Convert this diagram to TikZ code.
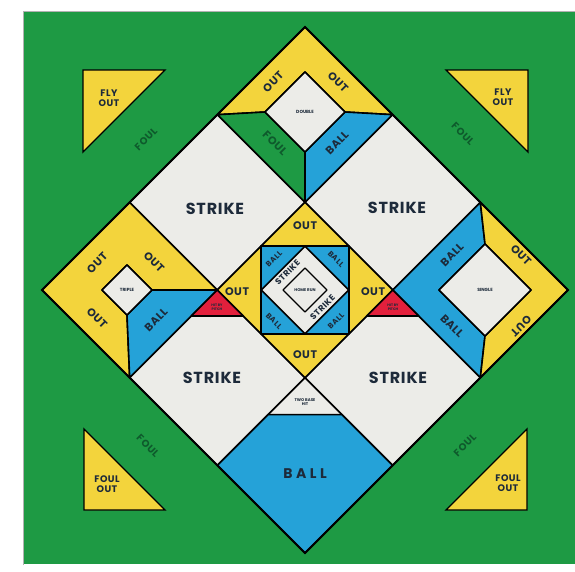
\documentclass[tikz,border=0pt]{standalone}
\usepackage{fontspec}
\setmainfont{Poppins}
\usetikzlibrary{calc}
\definecolor{fgreen}{HTML}{1E9A44}
\definecolor{dgreen}{HTML}{0E5A2C}
\definecolor{fyellow}{HTML}{F3D43C}
\definecolor{fblue}{HTML}{25A2D8}
\definecolor{fwhite}{HTML}{ECECE8}
\definecolor{fred}{HTML}{E2203C}
\definecolor{ink}{HTML}{1D2A3A}
\tikzset{
  cell/.style={draw=black, line width=1.6pt, line join=round},
  corner/.style={draw=black, line width=1.3pt, line join=miter, fill=fyellow},
  bigtxt/.style={font=\bfseries\fontsize{16}{16}\selectfont\addfontfeature{LetterSpace=5}, text=ink, inner sep=0pt},
  midtxt/.style={font=\bfseries\fontsize{11}{11}\selectfont\addfontfeature{LetterSpace=5}, text=ink, inner sep=0pt},
  balltxt/.style={font=\bfseries\fontsize{7.5}{7.5}\selectfont\addfontfeature{LetterSpace=8}, text=ink, inner sep=0pt},
  ctrtxt/.style={font=\bfseries\fontsize{8.5}{8.5}\selectfont\addfontfeature{LetterSpace=6}, text=ink, inner sep=0pt},
  cortxt/.style={font=\bfseries\fontsize{9.5}{10}\selectfont\addfontfeature{LetterSpace=5}, text=ink, inner sep=0pt, align=center},
  foultxt/.style={font=\bfseries\fontsize{10}{10}\selectfont\addfontfeature{LetterSpace=6}, text=dgreen, inner sep=0pt},
  tinytxt/.style={font=\bfseries\fontsize{4.5}{5}\selectfont, text=ink, inner sep=0pt, align=center},
}
\begin{document}
\begin{tikzpicture}[x=1pt,y=-1pt]
\useasboundingbox (0,0) rectangle (575,571);
\fill[white] (0,0) rectangle (575,571);
\fill[fgreen] (24,12) rectangle (575,564);
\draw[gray!60, line width=0.8pt] (23,565) -- (23,11) -- (575,11);

\foreach \i in {0,...,3}{\foreach \j in {0,...,3}{%
  \coordinate (P\i\j) at ({305+(\j-\i)*87.667},{27+(\i+\j)*87.667});}}

% strike cells
\path[cell, fill=fwhite] (P10) -- (P20) -- (P21) -- (P11) -- cycle;
\path[cell, fill=fwhite] (P01) -- (P11) -- (P12) -- (P02) -- cycle;
\path[cell, fill=fwhite] (P21) -- (P31) -- (P32) -- (P22) -- cycle;
\path[cell, fill=fwhite] (P12) -- (P22) -- (P23) -- (P13) -- cycle;

% top cell (double)
\coordinate (Dt) at (305,72);
\coordinate (Dl) at (265,112);
\coordinate (Dr) at (345,112);
\coordinate (Db) at (305,152);
\path[cell, fill=fyellow] (P10) -- (P00) -- (P01) -- (Dr) -- (Dt) -- (Dl) -- cycle;
\path[cell, fill=fgreen] (P10) -- (Dl) -- (Db) -- (P11) -- cycle;
\path[cell, fill=fblue] (P01) -- (Dr) -- (Db) -- (P11) -- cycle;
\path[cell, fill=fwhite] (Dt) -- (Dr) -- (Db) -- (Dl) -- cycle;

% left cell (triple)
\coordinate (Tt) at (127,265);
\coordinate (Tl) at (102,290);
\coordinate (Tr) at (152,290);
\coordinate (Tb) at (127,315);
\path[cell, fill=fyellow] (P21) -- (P20) -- (P30) -- (P31) -- (Tb) -- (Tl) -- (Tt) -- (Tr) -- cycle;
\path[cell, fill=fblue] (Tr) -- (P21) -- (P31) -- (Tb) -- cycle;
\path[cell, fill=fwhite] (Tt) -- (Tr) -- (Tb) -- (Tl) -- cycle;

% right cell (single)
\coordinate (St) at (485,244);
\coordinate (Sl) at (439,290);
\coordinate (Sr) at (531,290);
\coordinate (Sb) at (485,336);
\path[cell, fill=fblue] (P02) -- (P12) -- (P13) -- (Sb) -- (Sl) -- (St) -- cycle;
\path[cell, fill=fyellow] (P02) -- (P03) -- (P13) -- (Sb) -- (Sr) -- (St) -- cycle;
\path[cell, fill=fwhite] (St) -- (Sr) -- (Sb) -- (Sl) -- cycle;

% center cell
\path[cell, fill=fyellow] (P11) -- (P21) -- (P22) -- (P12) -- cycle;
\coordinate (Q1) at ($(P11)!.5!(P21)$);
\coordinate (Q2) at ($(P21)!.5!(P22)$);
\coordinate (Q3) at ($(P22)!.5!(P12)$);
\coordinate (Q4) at ($(P12)!.5!(P11)$);
\path[cell, fill=fblue] (Q1) -- (Q2) -- (Q3) -- (Q4) -- cycle;
\path[cell, fill=fwhite] ($(Q1)!.5!(Q4)$) -- ($(Q1)!.5!(Q2)$) -- ($(Q2)!.5!(Q3)$) -- ($(Q3)!.5!(Q4)$) -- cycle;
\path[cell, line width=1.3pt] (305,268) -- (327,290) -- (305,312) -- (283,290) -- cycle;

% red triangles
\path[cell, fill=fred] (P21) -- ++(-26,26) coordinate (RLa) -- ++(52,0) -- cycle;
\path[cell, fill=fred] (P12) -- ++(-26,26) coordinate (RRa) -- ++(52,0) -- cycle;

% bottom cell
\path[cell, fill=fwhite] (P22) -- (P32) -- (P33) -- (P23) -- cycle;
\path[cell, fill=fblue] ($(P22)+(-37,37)$) -- ($(P22)+(37,37)$) -- (P23) -- (P33) -- (P32) -- cycle;

% outer outline
\draw[line width=1.8pt, line join=miter] (P00) -- (P03) -- (P33) -- (P30) -- cycle;

% corner triangles
\path[corner] (83,70) -- (165,70) -- (83,152) -- cycle;
\path[corner] (446,70) -- (528,70) -- (528,152) -- cycle;
\path[corner] (84,429) -- (165,510) -- (84,510) -- cycle;
\path[corner] (527,429) -- (527,510) -- (446,510) -- cycle;

% texts: strike cells
\node[bigtxt] (s1) at (215,209) {STRIKE};
\node[bigtxt] (s2) at (397,208) {STRIKE};
\node[bigtxt] (s3) at (212,378) {STRIKE};
\node[bigtxt] (s4) at (398,378) {STRIKE};

% top cell texts
\node[midtxt, rotate=45] (d1) at (273,82) {OUT};
\node[midtxt, rotate=-45] (d2) at (338,82) {OUT};
\node[midtxt, rotate=-45, text=dgreen] (d3) at (275,143) {FOUL};
\node[midtxt, rotate=45] (d4) at (337,143) {BALL};
\node[tinytxt] (d5) at (305,112) {DOUBLE};

% left cell texts
\node[midtxt, rotate=45] (t1) at (97,263) {OUT};
\node[midtxt, rotate=-45] (t2) at (154,262) {OUT};
\node[midtxt, rotate=-45] (t3) at (97,318) {OUT};
\node[midtxt, rotate=45] (t4) at (156,320) {BALL};
\node[tinytxt] (t5) at (127,290) {TRIPLE};

% right cell texts
\node[midtxt, rotate=45] (r1) at (452,255) {BALL};
\node[midtxt, rotate=-45] (r2) at (452,326) {BALL};
\node[midtxt, rotate=-45] (r3) at (521,255) {OUT};
\node[midtxt, rotate=-135] (r4) at (521,326) {OUT};
\node[tinytxt] (r5) at (485,290) {SINGLE};

% center cell texts
\node[midtxt] (c1) at (305,226) {OUT};
\node[midtxt] (c2) at (305,355) {OUT};
\node[midtxt] (c3) at (237,292) {OUT};
\node[midtxt] (c4) at (373,292) {OUT};
\node[balltxt, rotate=45] (c5) at (274,259) {BALL};
\node[balltxt, rotate=-45] (c6) at (336,259) {BALL};
\node[balltxt, rotate=-45] (c7) at (274,321) {BALL};
\node[balltxt, rotate=45] (c8) at (336,321) {BALL};
\node[ctrtxt, rotate=45] (c9) at (287.5,272.5) {STRIKE};
\node[ctrtxt, rotate=45] (c10) at (322.5,307.5) {STRIKE};
\node[tinytxt, font=\bfseries\fontsize{4}{4.5}\selectfont] (c11) at (305,290) {HOME RUN};

% small texts
\node[tinytxt, font=\bfseries\fontsize{3.5}{4}\selectfont] (rl) at (217,307) {HIT BY\\PITCH};
\node[tinytxt, font=\bfseries\fontsize{3.5}{4}\selectfont] (rr) at (393,307) {HIT BY\\PITCH};
\node[tinytxt, font=\bfseries\fontsize{4}{4.5}\selectfont] (bw) at (305,402) {TWO BASE\\HIT};
\node[font=\bfseries\fontsize{14}{14}\selectfont\addfontfeature{LetterSpace=25}, text=ink, inner sep=0pt] (bb) at (305,474) {BALL};

% corners
\node[cortxt] (k1) at (109,98) {FLY\\OUT};
\node[cortxt] (k2) at (503,97) {FLY\\OUT};
\node[cortxt] (k3) at (107,484) {FOUL\\OUT};
\node[cortxt] (k4) at (508,483) {FOUL\\OUT};
\node[foultxt, rotate=45] (f1) at (146,139) {FOUL};
\node[foultxt, rotate=-45] (f2) at (463,134) {FOUL};
\node[foultxt, rotate=-45] (f3) at (148,446) {FOUL};
\node[foultxt, rotate=45] (f4) at (465,445) {FOUL};
\end{tikzpicture}
\end{document}
